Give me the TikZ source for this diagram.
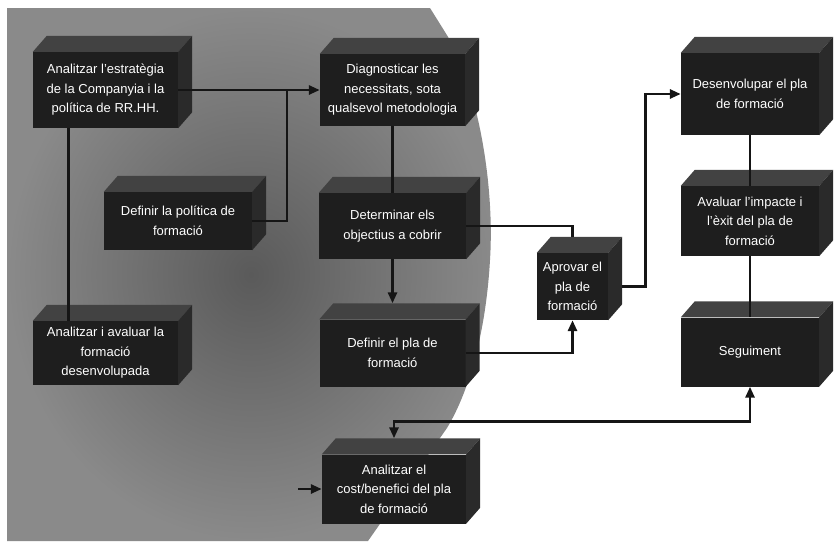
\documentclass[tikz,border=0pt]{standalone}
\usepackage{fontspec}
\setmainfont{Liberation Sans}
\usetikzlibrary{arrows.meta,calc,positioning}
\definecolor{PlanFront}{HTML}{1E1E1E}
\definecolor{PlanTop}{HTML}{424242}
\definecolor{PlanSide}{HTML}{2A2A2A}
\definecolor{PlanLine}{HTML}{151515}
\definecolor{PlanShadeIn}{HTML}{5A5A5A}
\definecolor{PlanShadeOut}{HTML}{8A8A8A}

\begin{document}
\begin{tikzpicture}[x=1pt, y=-1pt,
    box/.style={fill=PlanFront, text=white, inner sep=0pt, align=center, font=\fontsize{13}{19.5}\selectfont},
    conn/.style={draw=PlanLine, line width=2.8pt},
    arr/.style={conn, -{Triangle[length=11pt,width=9pt]}}]
    \useasboundingbox (0,0) rectangle (834,541);

    % fons gris
    \shade[inner color=PlanShadeIn, outer color=PlanShadeOut]
      (7,8) -- (430,8) -- (445,32) .. controls (476,80) and (495,180) .. (490,260)
      .. controls (486,330) and (470,390) .. (447,428) -- (368,541) -- (7,541) -- cycle;

    \node[box, minimum width=145pt, minimum height=76pt] (strat) at (105.5,90) {Analitzar l'estratègia\\de la Companyia i la\\política de RR.HH.};
    \node[box, minimum width=145pt, minimum height=72pt] (diag) at (392.5,90) {Diagnosticar les\\necessitats, sota\\qualsevol metodologia};
    \node[box, minimum width=148pt, minimum height=58pt] (polit) at (178,221) {Definir la política de\\formació};
    \node[box, minimum width=145pt, minimum height=64pt] (aval) at (105.5,353) {Analitzar i avaluar la\\formació\\desenvolupada};
    \node[box, minimum width=147pt, minimum height=66pt] (objec) at (392.5,226) {Determinar els\\objectius a cobrir};
    \node[box, minimum width=146pt, minimum height=67pt] (defpla) at (392.5,353) {Definir el pla de\\formació};
    \node[box, minimum width=144pt, minimum height=69pt] (cost) at (394,489) {Analitzar el\\cost/benefici del pla\\de formació};
    \node[box, minimum width=71pt, minimum height=67pt] (aprov) at (572.5,286.5) {Aprovar el\\pla de\\formació};
    \node[box, minimum width=138pt, minimum height=82pt] (desen) at (750,94) {Desenvolupar el pla\\de formació};
    \node[box, minimum width=138pt, minimum height=70pt] (impact) at (750,221) {Avaluar l'impacte i\\l'èxit del pla de\\formació};
    \node[box, minimum width=138pt, minimum height=69pt] (segui) at (750,352) {Seguiment};

    % cares de fons de les caixes
    \foreach \n in {strat,diag,polit,aval,objec,defpla,cost,aprov,desen,impact,segui} {
      \fill[PlanTop] (\n.north west) -- ++(14,-16) -- ($(\n.north east)+(14,-16)$) -- (\n.north east) -- cycle;
      \fill[PlanSide] (\n.north east) -- ++(14,-16) -- ($(\n.south east)+(14,-16)$) -- (\n.south east) -- cycle;
    }

    \coordinate (polj) at (287,90);
    \coordinate (costin) at (298,489);

    \draw[arr] (strat) -- (diag);
    \draw[conn] (polit.east) -| (polj);
    \draw[conn] ([xshift=-37pt]strat.south) -- ([xshift=-37pt]aval.north);
    \draw[conn] (diag) -- (objec);
    \draw[arr] (objec.south) -- ([yshift=16pt]defpla.north);
    \draw[conn] (objec.east) -| ([yshift=16pt]aprov.north);
    \draw[arr] (defpla.east) -| (aprov.south);
    \draw[arr] ([xshift=14pt]aprov.east) -- ++(23,0) |- (desen.west);
    \draw[conn] (desen) -- (impact);
    \draw[conn] (impact) -- (segui);
    \draw[conn, {Triangle[length=11pt,width=9pt]}-{Triangle[length=11pt,width=9pt]}] ([yshift=16pt]cost.north) -- ++(0,-17) -| (segui.south);
    \draw[arr] (costin) -- (cost.west);
  \end{tikzpicture}
\end{document}
